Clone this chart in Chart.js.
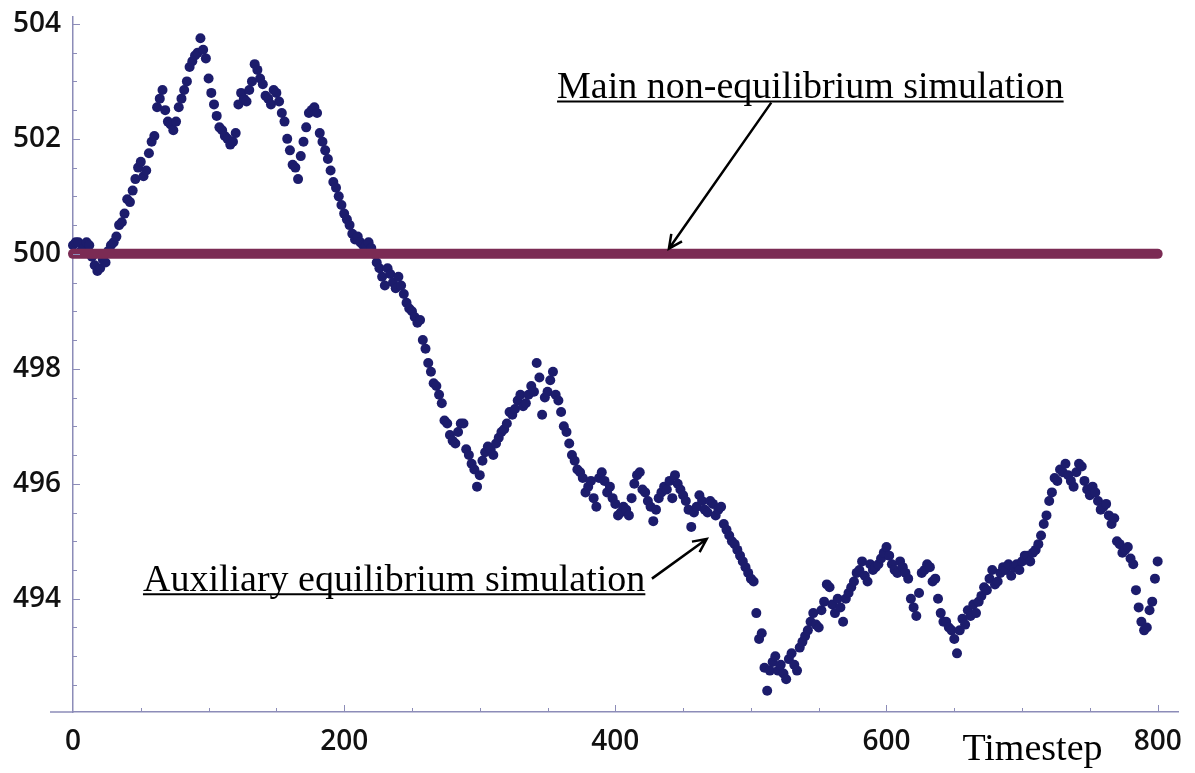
<!DOCTYPE html>
<html>
<head>
<meta charset="utf-8">
<script src="https://cdn.jsdelivr.net/npm/chart.js@4.4.1/dist/chart.umd.min.js"></script>
<style>
  html, body { margin: 0; padding: 0; background: #fff; }
  #wrap { width: 1195px; height: 773px; }
</style>
</head>
<body>
<div id="wrap"><canvas id="chart"></canvas></div>
<script>
// auxiliary equilibrium run, one value read every 2 timesteps (0..800)
const auxValues = [
  500.15, 500.2, 500.2, 500.05, 500.1, 500.2, 500.15, 499.95, 499.8, 499.7,
  499.75, 499.9, 499.85, 500.05, 500.15, 500.2, 500.3, 500.5, 500.55, 500.7,
  500.95, 500.9, 501.1, 501.3, 501.5, 501.6, 501.35, 501.45, 501.75, 501.95,
  502.05, 502.55, 502.7, 502.85, 502.5, 502.3, 502.25, 502.15, 502.3, 502.55,
  502.7, 502.85, 503.0, 503.25, 503.35, 503.45, 503.5, 503.75, 503.55, 503.4,
  503.05, 502.8, 502.6, 502.4, 502.2, 502.15, 502.05, 502.0, 501.9, 501.95,
  502.1, 502.6, 502.8, 502.7, 502.65, 502.85, 503.0, 503.3, 503.2, 503.05,
  502.95, 502.75, 502.7, 502.6, 502.85, 502.8, 502.65, 502.45, 502.3, 502.0,
  501.8, 501.55, 501.5, 501.3, 501.7, 501.95, 502.2, 502.45, 502.5, 502.55,
  502.45, 502.1, 501.95, 501.8, 501.65, 501.45, 501.25, 501.15, 501.0, 500.85,
  500.7, 500.6, 500.5, 500.35, 500.25, 500.3, 500.2, 500.15, 500.15, 500.2,
  500.1, 500.0, 499.85, 499.75, 499.6, 499.45, 499.75, 499.65, 499.5, 499.4,
  499.6, 499.45, 499.3, 499.15, 499.05, 499.0, 498.9, 498.8, 498.85, 498.5,
  498.35, 498.1, 497.95, 497.75, 497.7, 497.55, 497.4, 497.1, 497.05, 496.85,
  496.75, 496.7, 496.9, 497.05, 497.05, 496.6, 496.5, 496.35, 496.25, 495.95,
  496.15, 496.4, 496.55, 496.65, 496.6, 496.5, 496.7, 496.8, 496.9, 496.95,
  497.05, 497.25, 497.2, 497.3, 497.45, 497.55, 497.35, 497.4, 497.55, 497.7,
  497.6, 498.1, 497.85, 497.2, 497.5, 497.6, 497.8, 497.95, 497.55, 497.45,
  497.25, 497.0, 496.9, 496.7, 496.5, 496.4, 496.25, 496.2, 496.1, 495.85,
  495.95, 496.05, 495.75, 495.6, 496.1, 496.2, 496.05, 495.85, 495.95, 495.75,
  495.65, 495.45, 495.5, 495.6, 495.55, 495.45, 495.75, 496.0, 496.15, 496.2,
  495.9, 495.85, 495.7, 495.6, 495.35, 495.55, 495.75, 495.85, 495.95, 495.9,
  496.05, 495.75, 496.15, 496.0, 495.9, 495.8, 495.7, 495.55, 495.25, 495.5,
  495.6, 495.8, 495.7, 495.55, 495.5, 495.7, 495.65, 495.45, 495.55, 495.6,
  495.3, 495.2, 495.1, 495.0, 494.95, 494.85, 494.75, 494.65, 494.55, 494.45,
  494.35, 494.3, 493.75, 493.3, 493.4, 492.8, 492.4, 492.75, 492.9, 493.0,
  492.75, 492.85, 492.7, 492.6, 492.95, 493.05, 492.85, 492.75, 493.15, 493.25,
  493.35, 493.45, 493.6, 493.75, 493.55, 493.5, 493.8, 493.95, 494.25, 494.2,
  493.9, 493.75, 494.0, 493.85, 493.6, 494.0, 494.1, 494.2, 494.3, 494.45,
  494.5, 494.65, 494.4, 494.3, 494.6, 494.5, 494.55, 494.6, 494.7, 494.8,
  494.9, 494.75, 494.6, 494.5, 494.45, 494.65, 494.55, 494.45, 494.35, 494.0,
  493.85, 493.7, 494.1, 494.45, 494.5, 494.6, 494.55, 494.3, 494.35, 494.0,
  493.75, 493.6, 493.6, 493.5, 493.45, 493.3, 493.05, 493.45, 493.65, 493.55,
  493.8, 493.7, 493.9, 493.75, 493.95, 494.05, 494.2, 494.15, 494.35, 494.5,
  494.25, 494.3, 494.45, 494.55, 494.5, 494.6, 494.4, 494.55, 494.6, 494.5,
  494.65, 494.75, 494.75, 494.65, 494.8, 494.85, 494.95, 495.1, 495.3, 495.45,
  495.7, 495.85, 496.1, 496.05, 496.25, 496.2, 496.35, 496.15, 496.05, 495.95,
  496.2, 496.35, 496.3, 496.05, 495.9, 495.8, 495.95, 495.85, 495.7, 495.55,
  495.6, 495.65, 495.45, 495.3, 495.4, 495.0, 494.95, 494.8, 494.85, 494.9,
  494.7, 494.6, 494.15, 493.85, 493.6, 493.45, 493.5, 493.8, 493.95, 494.35,
  494.65
];
const timesteps = auxValues.map((_, i) => i * 2);

// main non-equilibrium run stays at 500
const mainSteps = [0, 800];
const mainValues = [500, 500];

const xTickValues = [0, 200, 400, 600, 800];
const yTickValues = [494, 496, 498, 500, 502, 504];
const xMin = 0, xMax = 815;
const yMin = 492.03, yMax = 504.12;

const annotations = [
  { text: 'Main non-equilibrium simulation', x: 357, y: 502.71, from: [515, 502.63], to: [439.5, 500.09] },
  { text: 'Auxiliary equilibrium simulation', x: 51.6, y: 494.14, from: [427, 494.35], to: [467.4, 495.04] }
];
const xTitle = 'Timestep';

const axisColor = '#8c8cb8';
const serif = '"Liberation Serif", "Times New Roman", serif';
const tickFont = { family: '"Open Sans", sans-serif', size: 28, weight: 600, lineHeight: 1 };

// small inward tick marks (major + minor) and the short axis stub left of 0
const tickMarks = {
  id: 'tickMarks',
  afterDraw(chart) {
    const { ctx, scales: { x, y }, chartArea } = chart;
    const x0 = chartArea.left;
    const yb = chartArea.bottom;
    ctx.save();
    ctx.strokeStyle = axisColor;
    ctx.lineWidth = 1.5;
    ctx.beginPath();
    ctx.moveTo(50, yb);
    ctx.lineTo(x0, yb);
    ctx.stroke();
    ctx.lineWidth = 1;
    for (let v = 492.5; v <= 504; v += 0.5) {
      const major = yTickValues.includes(v);
      const py = Math.round(y.getPixelForValue(v)) + 0.5;
      ctx.beginPath();
      ctx.moveTo(x0, py);
      ctx.lineTo(x0 + (major ? 7 : 4), py);
      ctx.stroke();
    }
    for (let t = 50; t <= 800; t += 50) {
      const major = xTickValues.includes(t);
      const px = Math.round(x.getPixelForValue(t)) + 0.5;
      ctx.beginPath();
      ctx.moveTo(px, yb);
      ctx.lineTo(px, yb - (major ? 7 : 4));
      ctx.stroke();
    }
    ctx.restore();
  }
};

function arrow(ctx, x1, y1, x2, y2) {
  const ang = Math.atan2(y2 - y1, x2 - x1);
  const head = 15;
  ctx.beginPath();
  ctx.moveTo(x1, y1);
  ctx.lineTo(x2, y2);
  ctx.moveTo(x2 - head * Math.cos(ang - 0.45), y2 - head * Math.sin(ang - 0.45));
  ctx.lineTo(x2, y2);
  ctx.lineTo(x2 - head * Math.cos(ang + 0.45), y2 - head * Math.sin(ang + 0.45));
  ctx.stroke();
}

const notes = {
  id: 'notes',
  afterDraw(chart) {
    const { ctx, scales: { x, y }, chartArea } = chart;
    ctx.save();
    ctx.fillStyle = '#000';
    ctx.strokeStyle = '#000';
    ctx.font = '38px ' + serif;
    ctx.textBaseline = 'alphabetic';
    ctx.textAlign = 'left';
    annotations.forEach(a => {
      const px = x.getPixelForValue(a.x);
      const py = y.getPixelForValue(a.y);
      ctx.fillText(a.text, px, py);
      const w = ctx.measureText(a.text).width;
      ctx.lineWidth = 2;
      ctx.beginPath();
      ctx.moveTo(px, py + 3.5);
      ctx.lineTo(px + w, py + 3.5);
      ctx.stroke();
      ctx.lineWidth = 2.5;
      arrow(ctx, x.getPixelForValue(a.from[0]), y.getPixelForValue(a.from[1]),
        x.getPixelForValue(a.to[0]), y.getPixelForValue(a.to[1]));
    });
    ctx.fillText(xTitle, x.getPixelForValue(656), chartArea.bottom + 48);
    ctx.restore();
  }
};

new Chart(document.getElementById('chart'), {
  data: {
    datasets: [
      {
        type: 'line',
        label: 'Main non-equilibrium simulation',
        data: mainSteps.map((t, i) => ({ x: t, y: mainValues[i] })),
        borderColor: '#7b2b54',
        borderWidth: 10,
        borderCapStyle: 'round',
        pointRadius: 0,
        fill: false,
        clip: false,
        order: 0
      },
      {
        type: 'scatter',
        label: 'Auxiliary equilibrium simulation',
        data: timesteps.map((t, i) => ({ x: t, y: auxValues[i] })),
        backgroundColor: '#1c1c6c',
        borderColor: '#1c1c6c',
        borderWidth: 0,
        pointRadius: 5,
        clip: false,
        order: 1
      }
    ]
  },
  options: {
    responsive: true,
    maintainAspectRatio: false,
    animation: false,
    layout: { padding: { left: 0, right: 17, top: 17, bottom: 0 } },
    plugins: { legend: { display: false }, tooltip: { enabled: false } },
    scales: {
      x: {
        type: 'linear',
        position: 'bottom',
        min: xMin,
        max: xMax,
        afterBuildTicks: axis => { axis.ticks = xTickValues.map(v => ({ value: v })); },
        afterFit: axis => { axis.height = 61; axis.paddingLeft = 0; axis.paddingRight = 0; },
        grid: { display: false },
        border: { display: true, color: axisColor, width: 1.5 },
        ticks: { padding: 8, color: '#111', font: tickFont, maxRotation: 0 }
      },
      y: {
        type: 'linear',
        position: 'left',
        min: yMin,
        max: yMax,
        afterBuildTicks: axis => { axis.ticks = yTickValues.map(v => ({ value: v })); },
        afterFit: axis => { axis.width = 73; axis.paddingTop = 0; axis.paddingBottom = 0; },
        grid: { display: false },
        border: { display: true, color: axisColor, width: 1.5 },
        ticks: { padding: 4, color: '#111', font: tickFont }
      }
    }
  },
  plugins: [tickMarks, notes]
});
</script>
</body>
</html>
